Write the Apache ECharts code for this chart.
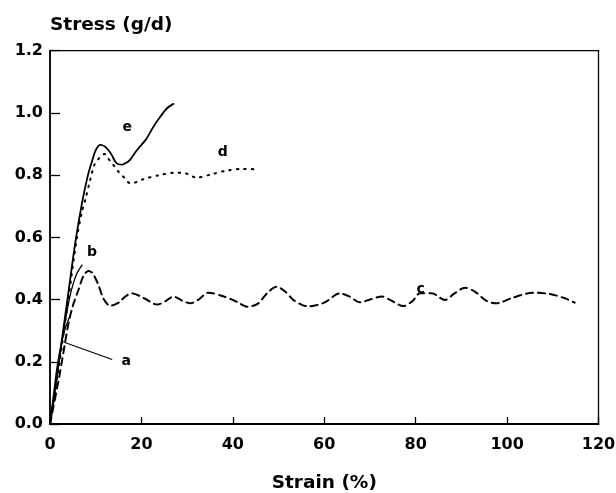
<!DOCTYPE html>
<html>
<head>
<meta charset="utf-8">
<script src="https://cdn.jsdelivr.net/npm/echarts@6/dist/echarts.min.js"></script>
<style>
  html, body { margin: 0; padding: 0; background: #fff; }
  #chart { width: 616px; height: 493px; }
</style>
</head>
<body>
<div id="chart"></div>
<script>
// strain (%) / stress (g/d) pairs
var curveA = [[0, 0], [0.8, 0.1], [1.6, 0.19], [2.5, 0.26], [3.4, 0.31], [4.3, 0.345]];
var curveB = [[0, 0], [1.5, 0.15], [3, 0.3], [4.2, 0.4], [5.1, 0.452], [5.9, 0.485], [7, 0.511]];
var curveC = [[0, 0], [2, 0.15], [4, 0.32], [5, 0.38], [6.2, 0.43], [7.3, 0.475], [8.4, 0.492],
  [9.3, 0.485], [10.5, 0.45], [11.8, 0.4], [13.2, 0.38], [15, 0.39], [16.5, 0.41], [17.9, 0.42],
  [20.5, 0.405], [23.4, 0.384], [25.3, 0.395], [27, 0.41], [29, 0.396], [30.7, 0.388], [32.5, 0.4],
  [34.6, 0.422], [38, 0.41], [41, 0.392], [43.2, 0.377], [45.5, 0.387], [47.5, 0.42], [49.6, 0.441],
  [51.5, 0.425], [53.2, 0.399], [55, 0.384], [56.5, 0.378], [60, 0.39], [63.4, 0.42], [65.5, 0.41],
  [67.8, 0.391], [70, 0.4], [72.6, 0.41], [74.5, 0.398], [77.3, 0.379], [79.3, 0.395], [80.9, 0.42],
  [83.5, 0.42], [86.4, 0.399], [88.5, 0.42], [90.8, 0.438], [93, 0.425], [95.5, 0.396], [97.7, 0.388],
  [101, 0.405], [105.7, 0.422], [109.3, 0.418], [112.5, 0.405], [114.8, 0.39]];
var curveD = [[0, 0], [2, 0.19], [4, 0.4], [5.9, 0.6], [7, 0.683], [7.7, 0.72], [8.8, 0.785],
  [9.7, 0.833], [10.6, 0.852], [11.9, 0.868], [12.9, 0.85], [14, 0.83], [15.1, 0.809], [16.4, 0.79],
  [17.5, 0.774], [18.8, 0.777], [20.4, 0.787], [24, 0.8], [27.4, 0.808], [29, 0.808], [32.1, 0.792],
  [35.4, 0.803], [38.8, 0.815], [42.3, 0.82], [45, 0.819]];
var curveE = [[0, 0], [1, 0.1], [2.5, 0.26], [4, 0.42], [5.5, 0.58], [7, 0.71], [8.3, 0.8],
  [9.2, 0.845], [10, 0.88], [11, 0.897], [12, 0.892], [12.8, 0.88], [13.5, 0.865], [14.3, 0.843],
  [15, 0.835], [15.8, 0.834], [16.7, 0.84], [17.5, 0.849], [19, 0.88], [21, 0.915], [22.6, 0.955],
  [24, 0.985], [25.6, 1.015], [27, 1.029]];

// curve letters and the pointer line to curve a
var labelNames = ['a', 'b', 'c', 'd', 'e'];
var labelPos = [[16.7, 0.2], [9.2, 0.553], [81.1, 0.434], [37.8, 0.874], [16.9, 0.952]];
var pointerA = [[3.1, 0.263], [13.6, 0.207]];

var xTicks = [0, 20, 40, 60, 80, 100, 120];
var yTicks = [0, 0.2, 0.4, 0.6, 0.8, 1.0, 1.2];

var font = 'DejaVu Sans';

function curve(data, type, width) {
  return {
    type: 'line',
    data: data,
    smooth: 0.3,
    showSymbol: false,
    symbol: 'none',
    silent: true,
    lineStyle: { color: '#000', width: width, type: type, cap: 'round' }
  };
}

var chart = echarts.init(document.getElementById('chart'));
chart.setOption({
  animation: false,
  backgroundColor: '#fff',
  grid: {
    left: 50, right: 17.5, top: 50.7, bottom: 69,
    containLabel: false,
    outerBoundsMode: 'none',
    show: true, borderColor: '#000', borderWidth: 1.3
  },
  xAxis: {
    type: 'value',
    min: xTicks[0], max: xTicks[xTicks.length - 1], interval: 20,
    name: 'Strain (%)',
    nameLocation: 'middle',
    nameGap: 50,
    nameTextStyle: { fontFamily: font, fontWeight: 'bold', fontSize: 18.5, color: '#000' },
    axisLine: { lineStyle: { color: '#000', width: 1.8 } },
    axisTick: { inside: true, length: 7, lineStyle: { color: '#000', width: 1.3 } },
    axisLabel: { margin: 13, fontFamily: font, fontWeight: 'bold', fontSize: 16, color: '#000' },
    splitLine: { show: false }
  },
  yAxis: {
    type: 'value',
    min: yTicks[0], max: yTicks[yTicks.length - 1], interval: 0.2,
    name: 'Stress (g/d)',
    nameLocation: 'end',
    nameGap: 16,
    nameTextStyle: { fontFamily: font, fontWeight: 'bold', fontSize: 18.5, color: '#000', align: 'left' },
    axisLine: { lineStyle: { color: '#000', width: 1.6 } },
    axisTick: { inside: true, length: 10, lineStyle: { color: '#000', width: 1.3 } },
    axisLabel: {
      margin: 7, fontFamily: font, fontWeight: 'bold', fontSize: 16, color: '#000',
      formatter: function (v) { return v.toFixed(1); }
    },
    splitLine: { show: false }
  },
  series: [
    curve(curveA, 'solid', 1.2),
    curve(curveB, 'solid', 1.3),
    curve(curveC, [7, 5], 2),
    curve(curveD, [1.5, 6], 2),
    curve(curveE, 'solid', 1.8),
    {
      type: 'line',
      data: pointerA,
      symbol: 'none',
      silent: true,
      lineStyle: { color: '#000', width: 1.1 }
    },
    {
      type: 'scatter',
      symbolSize: 0,
      silent: true,
      itemStyle: { color: '#000', opacity: 1 },
      data: labelNames.map(function (n, i) { return { name: n, value: labelPos[i] }; }),
      label: {
        show: true, position: 'inside', formatter: '{b}',
        fontFamily: font, fontWeight: 'bold', fontSize: 14, color: '#000',
        textBorderWidth: 0, opacity: 1
      }
    }
  ]
});
</script>
</body>
</html>
